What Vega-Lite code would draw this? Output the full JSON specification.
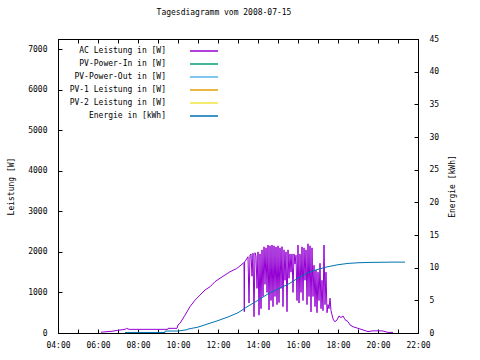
{
  "$schema": "https://vega.github.io/schema/vega-lite/v6.json",
  "autosize": {"type": "none"},
  "padding": {"left": 58, "top": 39, "right": 62, "bottom": 27},
  "width": 360,
  "height": 294,
  "background": "white",
  "title": {"text": "Tagesdiagramm vom 2008-07-15", "font": "DejaVu Sans Mono", "fontSize": 8, "fontWeight": "normal", "color": "black", "frame": "group", "anchor": "middle", "dx": -14, "offset": 18},
  "config": {
    "view": {"stroke": "black", "strokeWidth": 1},
    "axis": {"domainColor": "black", "tickColor": "black", "labelColor": "black", "titleColor": "black", "labelFont": "DejaVu Sans Mono", "titleFont": "DejaVu Sans Mono", "labelFontSize": 8, "titleFontSize": 8, "titleFontWeight": "normal", "grid": false, "tickSize": -4},
    "legend": {"orient": "none", "legendX": 138, "legendY": 4, "symbolType": "M-2,0H2", "symbolSize": 196, "symbolStrokeWidth": 1.5, "labelAlign": "right", "labelOffset": -46, "labelFont": "DejaVu Sans Mono", "labelFontSize": 8, "labelColor": "black", "rowPadding": 1, "labelLimit": 0}
  },
  "datasets": {
    "ac": [
      {"t": 6.15, "v": 20}, {"t": 6.65, "v": 40}, {"t": 6.985, "v": 65}, {"t": 7.35, "v": 90}, {"t": 7.435, "v": 115}, {"t": 7.55, "v": 90},
      {"t": 9.485, "v": 90}, {"t": 9.5, "v": 115}, {"t": 9.95, "v": 115}, {"t": 10.0, "v": 200}, {"t": 10.1, "v": 240},
      {"t": 10.35, "v": 440}, {"t": 10.6, "v": 650}, {"t": 10.85, "v": 810}, {"t": 11.1, "v": 935}, {"t": 11.35, "v": 1060},
      {"t": 11.6, "v": 1140}, {"t": 11.85, "v": 1265}, {"t": 12.1, "v": 1350}, {"t": 12.35, "v": 1430}, {"t": 12.6, "v": 1510},
      {"t": 12.935, "v": 1590}, {"t": 13.25, "v": 1715}, {"t": 13.3, "v": 1740}, {"t": 13.315, "v": 525}, {"t": 13.33, "v": 1750},
      {"t": 13.4, "v": 1800}, {"t": 13.5, "v": 1880}, {"t": 13.55, "v": 740}, {"t": 13.6, "v": 1920}, {"t": 13.65, "v": 1950},
      {"t": 13.7, "v": 1400}, {"t": 13.75, "v": 1970}, {"t": 13.8, "v": 400}, {"t": 13.85, "v": 1980}, {"t": 13.9, "v": 1900},
      {"t": 13.95, "v": 1100}, {"t": 14.0, "v": 2000}, {"t": 14.05, "v": 440}, {"t": 14.1, "v": 1950}, {"t": 14.15, "v": 600},
      {"t": 14.2, "v": 2050}, {"t": 14.25, "v": 900}, {"t": 14.3, "v": 2125}, {"t": 14.35, "v": 1200}, {"t": 14.4, "v": 2100},
      {"t": 14.45, "v": 1000}, {"t": 14.5, "v": 2170}, {"t": 14.55, "v": 570}, {"t": 14.6, "v": 2150}, {"t": 14.65, "v": 800},
      {"t": 14.7, "v": 2170}, {"t": 14.75, "v": 650}, {"t": 14.8, "v": 2150}, {"t": 14.85, "v": 900}, {"t": 14.9, "v": 2120},
      {"t": 14.95, "v": 700}, {"t": 15.0, "v": 2150}, {"t": 15.05, "v": 750}, {"t": 15.1, "v": 2100}, {"t": 15.15, "v": 1100},
      {"t": 15.2, "v": 2130}, {"t": 15.25, "v": 650}, {"t": 15.3, "v": 2050}, {"t": 15.35, "v": 1300}, {"t": 15.4, "v": 2000},
      {"t": 15.45, "v": 525}, {"t": 15.5, "v": 2050}, {"t": 15.55, "v": 1350}, {"t": 15.6, "v": 1950}, {"t": 15.65, "v": 1500},
      {"t": 15.7, "v": 1950}, {"t": 15.75, "v": 1000}, {"t": 15.8, "v": 1950}, {"t": 15.85, "v": 1700}, {"t": 15.9, "v": 1920},
      {"t": 15.95, "v": 800}, {"t": 16.0, "v": 2170}, {"t": 16.05, "v": 740}, {"t": 16.1, "v": 1950}, {"t": 16.15, "v": 1000},
      {"t": 16.2, "v": 2125}, {"t": 16.25, "v": 800}, {"t": 16.3, "v": 2100}, {"t": 16.35, "v": 1300}, {"t": 16.4, "v": 2050},
      {"t": 16.45, "v": 700}, {"t": 16.5, "v": 2200}, {"t": 16.55, "v": 900}, {"t": 16.6, "v": 2150}, {"t": 16.65, "v": 520},
      {"t": 16.7, "v": 2100}, {"t": 16.75, "v": 900}, {"t": 16.8, "v": 1670}, {"t": 16.85, "v": 650}, {"t": 16.9, "v": 1550},
      {"t": 16.95, "v": 500}, {"t": 17.0, "v": 1500}, {"t": 17.05, "v": 800}, {"t": 17.1, "v": 1720}, {"t": 17.15, "v": 600},
      {"t": 17.2, "v": 1300}, {"t": 17.25, "v": 550}, {"t": 17.3, "v": 2170}, {"t": 17.35, "v": 700}, {"t": 17.4, "v": 1500},
      {"t": 17.45, "v": 500}, {"t": 17.5, "v": 700}, {"t": 17.55, "v": 600}, {"t": 17.6, "v": 860}, {"t": 17.65, "v": 550},
      {"t": 17.7, "v": 450}, {"t": 17.75, "v": 350}, {"t": 17.8, "v": 300}, {"t": 17.85, "v": 280}, {"t": 17.95, "v": 320},
      {"t": 18.05, "v": 420}, {"t": 18.15, "v": 380}, {"t": 18.25, "v": 420}, {"t": 18.35, "v": 330}, {"t": 18.5, "v": 280},
      {"t": 18.6, "v": 200}, {"t": 18.75, "v": 155}, {"t": 19.0, "v": 115}, {"t": 19.25, "v": 75}, {"t": 19.5, "v": 35},
      {"t": 19.7, "v": 50}, {"t": 20.0, "v": 55}, {"t": 20.25, "v": 50}, {"t": 20.5, "v": 15}, {"t": 20.75, "v": 15}
    ],
    "en": [
      {"t": 7.35, "v": 0.08}, {"t": 9.35, "v": 0.08}, {"t": 9.36, "v": 0.3}, {"t": 10.0, "v": 0.3}, {"t": 10.45, "v": 0.5},
      {"t": 10.5, "v": 0.6}, {"t": 11.0, "v": 0.9}, {"t": 11.5, "v": 1.4}, {"t": 12.0, "v": 1.9}, {"t": 12.5, "v": 2.45},
      {"t": 13.0, "v": 3.1}, {"t": 13.5, "v": 4.1}, {"t": 14.0, "v": 5.0}, {"t": 14.5, "v": 6.0}, {"t": 15.0, "v": 6.75},
      {"t": 15.5, "v": 7.45}, {"t": 16.0, "v": 8.4}, {"t": 16.5, "v": 9.25}, {"t": 17.0, "v": 9.75}, {"t": 17.5, "v": 10.15},
      {"t": 18.0, "v": 10.45}, {"t": 18.5, "v": 10.65}, {"t": 19.0, "v": 10.75}, {"t": 19.5, "v": 10.8}, {"t": 20.0, "v": 10.82},
      {"t": 20.7, "v": 10.85}, {"t": 21.35, "v": 10.85}
    ]
  },
  "layer": [
    {
      "data": {"name": "ac"},
      "mark": {"type": "line", "strokeWidth": 1},
      "encoding": {
        "x": {"field": "t", "type": "quantitative", "scale": {"domain": [4, 22], "nice": false, "zero": false},
              "axis": {"title": null, "values": [4,5,6,7,8,9,10,11,12,13,14,15,16,17,18,19,20,21,22], "labelExpr": "datum.value % 2 == 0 ? ((datum.value < 10 ? '0' : '') + datum.value + ':00') : ''", "labelPadding": 12, "labelFlush": false}},
        "y": {"field": "v", "type": "quantitative", "scale": {"domain": [0, 7250], "nice": false},
              "axis": {"title": "Leistung [W]", "orient": "left", "format": "d", "values": [0,1000,2000,3000,4000,5000,6000,7000], "labelPadding": 15, "titlePadding": 12}},
        "color": {"datum": "AC Leistung in [W]", "type": "nominal",
                  "scale": {"domain": ["AC Leistung in [W]", "PV-Power-In in [W]", "PV-Power-Out in [W]", "PV-1 Leistung in [W]", "PV-2 Leistung in [W]", "Energie in [kWh]"],
                            "range": ["#9400d3", "#009e73", "#56b4e9", "#e69f00", "#f0e442", "#0072b2"]},
                  "legend": {"title": null}}
      }
    },
    {
      "data": {"name": "en"},
      "mark": {"type": "line", "strokeWidth": 1},
      "encoding": {
        "x": {"field": "t", "type": "quantitative", "scale": {"domain": [4, 22], "nice": false, "zero": false},
              "axis": {"orient": "top", "title": null, "labels": false, "values": [4,5,6,7,8,9,10,11,12,13,14,15,16,17,18,19,20,21,22]}},
        "y": {"field": "v", "type": "quantitative", "scale": {"domain": [0, 45], "nice": false},
              "axis": {"title": "Energie [kWh]", "orient": "right", "values": [0,5,10,15,20,25,30,35,40,45], "labelPadding": 15, "titlePadding": 18, "titleAngle": -90}},
        "color": {"datum": "Energie in [kWh]", "type": "nominal"}
      }
    }
  ],
  "resolve": {"scale": {"y": "independent", "x": "independent"}}
}
